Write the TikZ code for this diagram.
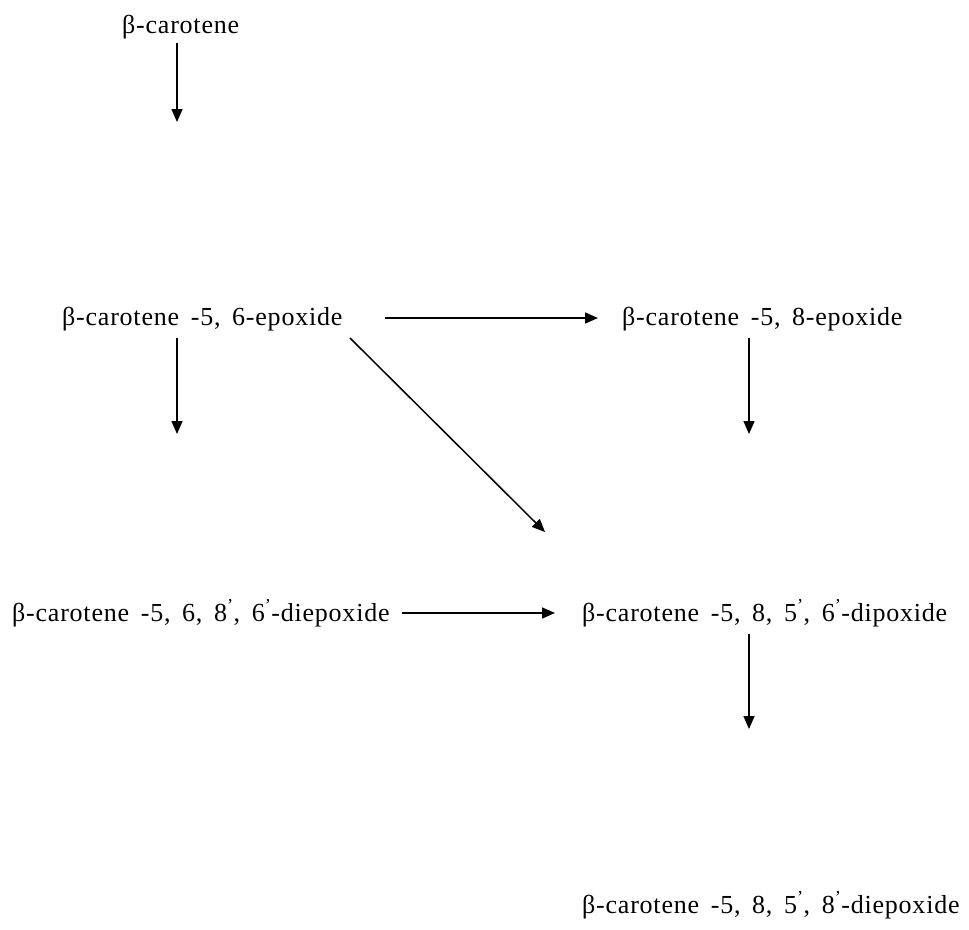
\documentclass[tikz,border=0pt]{standalone}
\usepackage{fontspec}
\setmainfont{Liberation Serif}[LetterSpace=3,WordSpace=1.6]
\usetikzlibrary{arrows.meta}
\newcommand{\pr}{\textsuperscript{’}}
\begin{document}
\begin{tikzpicture}[x=1pt,y=-1pt,
  lbl/.style={anchor=base west,inner sep=0pt,font=\fontsize{26}{30}\selectfont},
  arr/.style={line width=1.5pt,-{Triangle[length=13pt,width=11pt]}}]
\useasboundingbox[fill=white] (0,0) rectangle (969,929);
\node[lbl] (bc) at (122,33) {β-carotene};
\node[lbl] (e56) at (62,325) {β-carotene -5, 6-epoxide};
\node[lbl] (e58) at (622,325) {β-carotene -5, 8-epoxide};
\node[lbl] (d5686) at (12,621) {β-carotene -5, 6, 8\pr, 6\pr-diepoxide};
\node[lbl] (d5856) at (582,621) {β-carotene -5, 8, 5\pr, 6\pr-dipoxide};
\node[lbl] (d5858) at (582,913) {β-carotene -5, 8, 5\pr, 8\pr-diepoxide};
\coordinate (a1s) at (177,43);  \coordinate (a1e) at (177,122);
\coordinate (h1s) at (385,318); \coordinate (h1e) at (598,318);
\coordinate (v1s) at (177,338); \coordinate (v1e) at (177,434);
\coordinate (v2s) at (749,338); \coordinate (v2e) at (749,434);
\coordinate (dgs) at (350,338); \coordinate (dge) at (545,532);
\coordinate (h2s) at (402,613); \coordinate (h2e) at (555,613);
\coordinate (v3s) at (749,634); \coordinate (v3e) at (749,729);
\draw[arr] (a1s) -- (a1e);
\draw[arr] (h1s) -- (h1e);
\draw[arr] (v1s) -- (v1e);
\draw[arr] (v2s) -- (v2e);
\draw[arr] (dgs) -- (dge);
\draw[arr] (h2s) -- (h2e);
\draw[arr] (v3s) -- (v3e);
\end{tikzpicture}
\end{document}
